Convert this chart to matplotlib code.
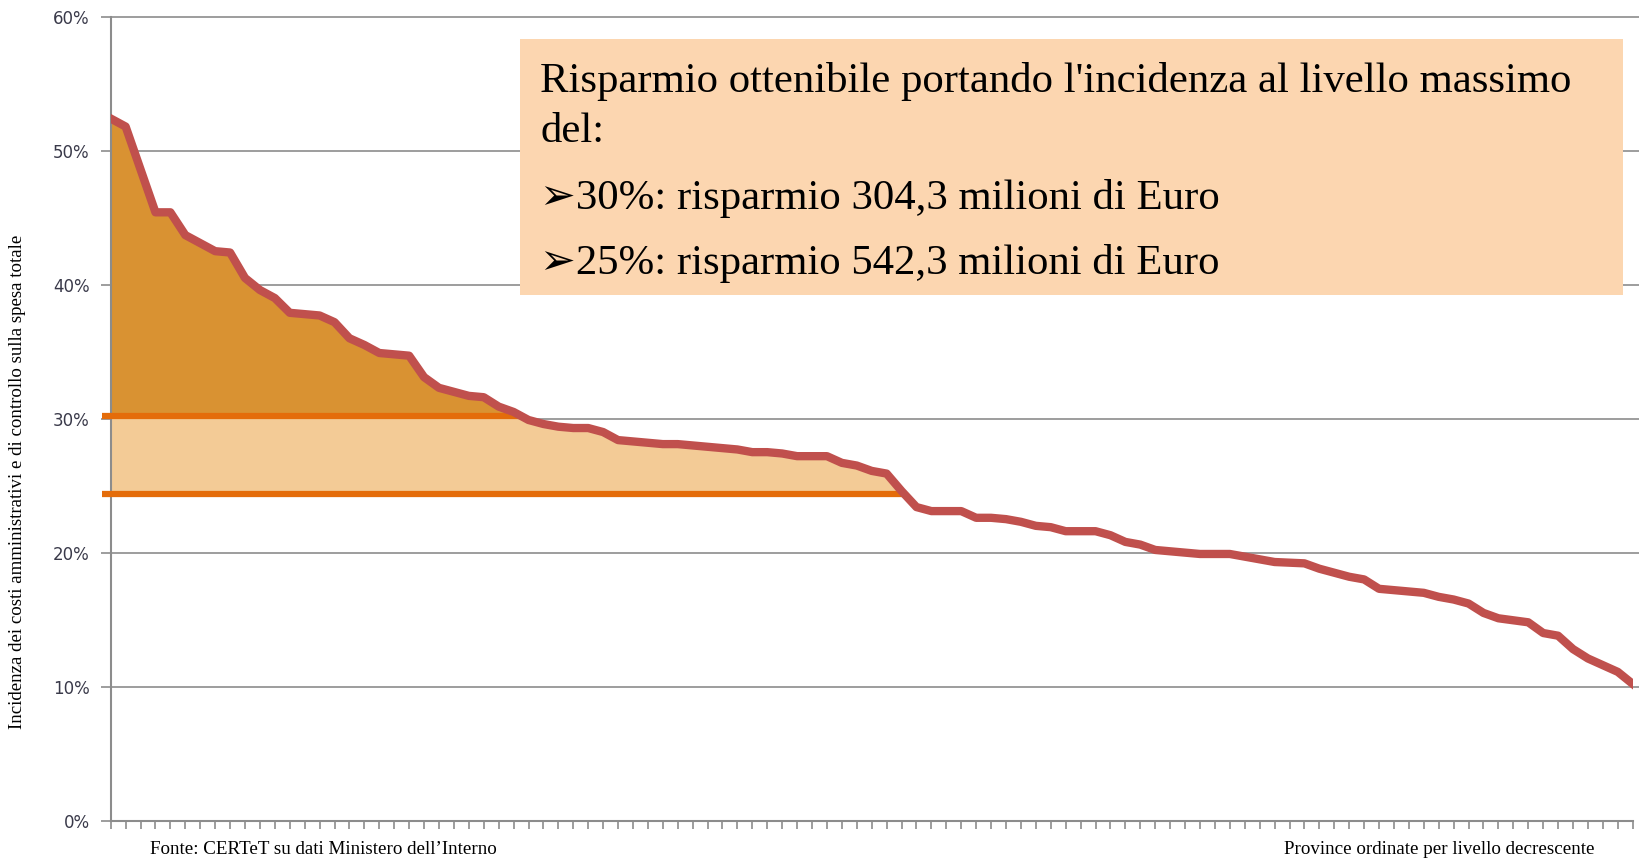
import numpy as np
import matplotlib.pyplot as plt
from matplotlib.patches import Rectangle

# Incidenza (%) per provincia, ordinate in modo decrescente
incidenza = [52.4, 51.8, 48.6, 45.4, 45.4, 43.7, 43.1, 42.5, 42.4, 40.5,
             39.6, 39.0, 37.9, 37.8, 37.7, 37.2, 36.0, 35.5, 34.9, 34.8,
             34.7, 33.1, 32.3, 32.0, 31.7, 31.6, 30.9, 30.5, 29.9, 29.6,
             29.4, 29.3, 29.3, 29.0, 28.4, 28.3, 28.2, 28.1, 28.1, 28.0,
             27.9, 27.8, 27.7, 27.5, 27.5, 27.4, 27.2, 27.2, 27.2, 26.7,
             26.5, 26.1, 25.9, 24.6, 23.4, 23.1, 23.1, 23.1, 22.6, 22.6,
             22.5, 22.3, 22.0, 21.9, 21.6, 21.6, 21.6, 21.3, 20.8, 20.6,
             20.2, 20.1, 20.0, 19.9, 19.9, 19.9, 19.7, 19.5, 19.3, 19.25,
             19.2, 18.8, 18.5, 18.2, 18.0, 17.3, 17.2, 17.1, 17.0, 16.7,
             16.5, 16.2, 15.5, 15.1, 14.95, 14.8, 14.0, 13.8, 12.8, 12.1,
             11.6, 11.1, 10.2]
soglie = [30.2, 24.4]
yticks = [0, 10, 20, 30, 40, 50, 60]

box_lines = ["Risparmio ottenibile portando l'incidenza al livello massimo",
             "del:",
             "\u27a230%: risparmio 304,3 milioni di Euro",
             "\u27a225%: risparmio 542,3 milioni di Euro"]

y = np.array(incidenza)
x = np.arange(len(y))

W, H = 1639, 858
fig = plt.figure(figsize=(W / 100, H / 100), dpi=100)
ax = fig.add_axes([110.7 / W, 1 - 820.6 / H, (1632.7 - 110.7) / W, (820.6 - 16.7) / H])

grey = '#8c8c8c'
ax.set_xlim(0, len(y) - 1)
ax.set_ylim(0, 60)
for t in yticks[1:]:
    ax.plot([0, 1.004], [t, t], color=grey, lw=1.2, zorder=1,
            transform=ax.get_yaxis_transform(), clip_on=False)

# fine interpolata per le aree
xf = np.linspace(0, len(y) - 1, 4000)
yf = np.interp(xf, x, y)
alto, basso = soglie
ax.fill_between(xf, basso, np.minimum(yf, alto), where=yf > basso,
                color='#F3CB96', lw=0, zorder=2)
ax.fill_between(xf, alto, yf, where=yf > alto, color='#D99232', lw=0, zorder=2)

# soglie fino all'incrocio con la curva
for s in soglie:
    xc = xf[np.argmax(yf < s)]
    ax.plot([-0.55, xc], [s, s], color='#E46C0A', lw=4.5, solid_capstyle='butt',
            zorder=3, clip_on=False)

ax.plot(x, y, color='#C0504D', lw=6, zorder=4, solid_joinstyle='round')

ax.set_yticks(yticks)
ax.set_yticklabels([f'{t}%' for t in yticks])
ax.set_xticks(x)
ax.set_xticklabels([])
ax.tick_params(axis='x', length=6, width=1.2, color=grey, direction='out')
ax.tick_params(axis='y', length=7, width=1.2, color=grey, labelsize=12,
               labelcolor='#3a3a4a', pad=8)
for side in ['top', 'right']:
    ax.spines[side].set_visible(False)
for side in ['left', 'bottom']:
    ax.spines[side].set_color(grey)
    ax.spines[side].set_linewidth(1.5)

serif = ['Liberation Serif', 'DejaVu Serif']
fig.text(18 / W, 1 - 482 / H,
         'Incidenza dei costi amministrativi e di controllo sulla spesa totale',
         rotation=90, ha='center', va='center', fontsize=13.6, family=serif)
fig.text(150 / W, 1 - 849 / H, "Fonte: CERTeT su dati Ministero dell\u2019Interno",
         ha='left', va='center', fontsize=13.7, family=serif)
fig.text(1594 / W, 1 - 849 / H, 'Province ordinate per livello decrescente',
         ha='right', va='center', fontsize=13.7, family=serif)

# riquadro con il testo
fig.patches.append(Rectangle((519.5 / W, 1 - 294.8 / H), (1623 - 519.5) / W,
                             (294.8 - 38.7) / H, transform=fig.transFigure,
                             facecolor='#FCD6B0', edgecolor='none', zorder=5))
baselines = [92, 142, 209, 274]
for txt, b in zip(box_lines, baselines):
    fig.text(540 / W, 1 - b / H, txt, ha='left', va='baseline', fontsize=30.8,
             family=['Liberation Serif', 'DejaVu Sans'], zorder=6)

fig.savefig('out.png', dpi=100)
